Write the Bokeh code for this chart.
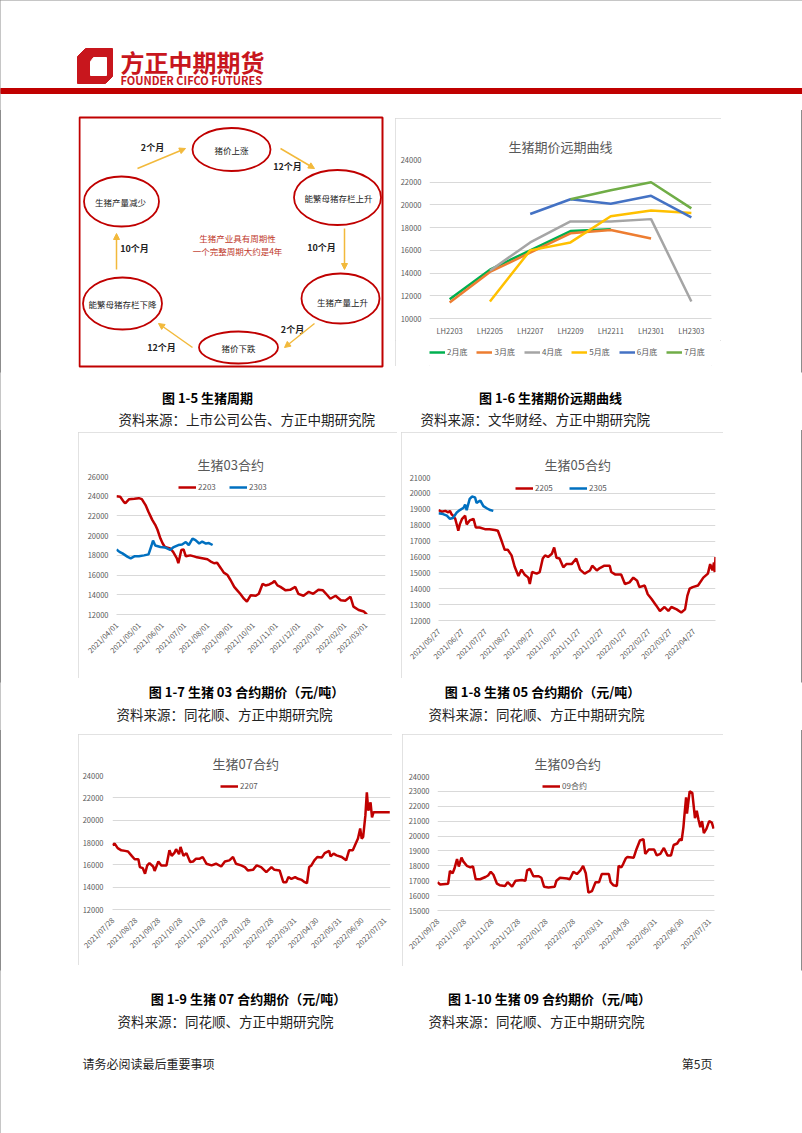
import math
import pandas as pd
from bokeh.plotting import figure
from bokeh.layouts import row, column, Spacer
from bokeh.models import (Range1d, FactorRange, FixedTicker, DatetimeTickFormatter,
                          Legend, LegendItem, Arrow, NormalHead)
from bokeh.core.properties import value
from bokeh.embed import file_html
from bokeh.resources import INLINE

NAN = float("nan")

# ------------------------------------------------------------------ data
brand_cn = "方正中期期货"
brand_en = "FOUNDER CIFCO FUTURES"

cycle_nodes = ["猪价上涨", "能繁母猪存栏上升", "生猪产量上升", "猪价下跌", "能繁母猪存栏下降", "生猪产量减少"]
cycle_steps = ["2个月", "12个月", "10个月", "2个月", "12个月", "10个月"]
cycle_note = ["生猪产业具有周期性", "一个完整周期大约是4年"]

curve_title = "生猪期价远期曲线"
curve_contracts = ["LH2203", "LH2205", "LH2207", "LH2209", "LH2211", "LH2301", "LH2303"]
curve_names = ["2月底", "3月底", "4月底", "5月底", "6月底", "7月底"]
curve_feb = [11700, 14300, 16000, 17700, 17850, NAN, NAN]
curve_mar = [11400, 14100, 15800, 17500, 17800, 17050, NAN]
curve_apr = [NAN, 14200, 16700, 18550, 18550, 18750, 11500]
curve_may = [NAN, 11500, 16000, 16700, 19000, 19500, 19300]
curve_jun = [NAN, NAN, 19200, 20500, 20100, 20800, 18900]
curve_jul = [NAN, NAN, NAN, 20500, 21300, 22000, 19700]
curve_yticks = [10000, 12000, 14000, 16000, 18000, 20000, 22000, 24000]

c03_title = "生猪03合约"
c03_names = ["2203", "2303"]
c03_a_dates = ["2021-04-01", "2021-04-06", "2021-04-11", "2021-04-13", "2021-04-18", "2021-04-25",
               "2021-05-01", "2021-05-05", "2021-05-10", "2021-05-14", "2021-05-19", "2021-05-23",
               "2021-05-26", "2021-05-30", "2021-06-02", "2021-06-05", "2021-06-12", "2021-06-16",
               "2021-06-21", "2021-06-23", "2021-06-27", "2021-06-30", "2021-07-03", "2021-07-09",
               "2021-07-14", "2021-07-18", "2021-07-25", "2021-08-01", "2021-08-05", "2021-08-10",
               "2021-08-14", "2021-08-19", "2021-08-23", "2021-08-28", "2021-09-01", "2021-09-06",
               "2021-09-10", "2021-09-14", "2021-09-19", "2021-09-23", "2021-09-28", "2021-10-05",
               "2021-10-09", "2021-10-14", "2021-10-18", "2021-10-23", "2021-10-27", "2021-10-30",
               "2021-11-03", "2021-11-07", "2021-11-14", "2021-11-20", "2021-11-27", "2021-12-01",
               "2021-12-08", "2021-12-15", "2021-12-21", "2021-12-28", "2022-01-03", "2022-01-09",
               "2022-01-13", "2022-01-20", "2022-01-27", "2022-02-02", "2022-02-09", "2022-02-13",
               "2022-02-20", "2022-02-27", "2022-03-03"]
c03_a_vals = [24000, 23950, 23400, 23300, 23700, 23750,
              23800, 23700, 23100, 22400, 21600, 21100,
              20600, 19700, 19200, 18850, 18700, 18350,
              17700, 17200, 18550, 18600, 17900, 18000,
              17900, 17800, 17700, 17600, 17400, 17200,
              17250, 16700, 16250, 16000, 15500, 14800,
              14450, 14100, 13600, 13300, 13950, 13900,
              14100, 15100, 14950, 15050, 15200, 15400,
              14950, 14800, 14450, 14500, 14800, 14100,
              13900, 14300, 14100, 14500, 14450, 13950,
              13600, 13900, 13450, 13400, 13800, 12800,
              12450, 12300, 12000]
c03_b_dates = ["2021-04-01", "2021-04-05", "2021-04-09", "2021-04-16", "2021-04-20", "2021-04-25",
               "2021-05-01", "2021-05-08", "2021-05-14", "2021-05-18", "2021-05-20", "2021-05-23",
               "2021-05-30", "2021-06-05", "2021-06-12", "2021-06-16", "2021-06-23", "2021-06-28",
               "2021-07-03", "2021-07-07", "2021-07-12", "2021-07-16", "2021-07-21", "2021-07-25",
               "2021-07-30", "2021-08-03", "2021-08-08"]
c03_b_vals = [18600, 18350, 18200, 17850, 17700, 17900,
              17900, 18000, 18100, 19000, 19500, 19000,
              18850, 18800, 18550, 18800, 19050, 19100,
              19350, 19050, 19700, 19550, 19200, 19400,
              19200, 19250, 19050]
c03_xticks = ["2021-04-01", "2021-05-01", "2021-06-01", "2021-07-01", "2021-08-01", "2021-09-01",
              "2021-10-01", "2021-11-01", "2021-12-01", "2022-01-01", "2022-02-01", "2022-03-01"]
c03_yticks = [12000, 14000, 16000, 18000, 20000, 22000, 24000, 26000]

c05_title = "生猪05合约"
c05_names = ["2205", "2305"]
c05_a_dates = ["2021-05-27", "2021-05-31", "2021-06-05", "2021-06-09", "2021-06-11", "2021-06-13",
               "2021-06-15", "2021-06-18", "2021-06-21", "2021-06-22", "2021-06-24", "2021-06-27",
               "2021-07-01", "2021-07-03", "2021-07-07", "2021-07-12", "2021-07-15", "2021-07-20",
               "2021-07-27", "2021-08-02", "2021-08-09", "2021-08-13", "2021-08-18", "2021-08-22",
               "2021-08-26", "2021-08-31", "2021-09-04", "2021-09-09", "2021-09-13", "2021-09-17",
               "2021-09-22", "2021-09-24", "2021-09-27", "2021-10-03", "2021-10-07", "2021-10-11",
               "2021-10-14", "2021-10-18", "2021-10-23", "2021-10-26", "2021-10-29", "2021-11-02",
               "2021-11-07", "2021-11-11", "2021-11-18", "2021-11-24", "2021-11-29", "2021-12-05",
               "2021-12-12", "2021-12-15", "2021-12-21", "2021-12-25", "2021-12-31", "2022-01-07",
               "2022-01-09", "2022-01-14", "2022-01-22", "2022-01-27", "2022-02-02", "2022-02-07",
               "2022-02-12", "2022-02-15", "2022-02-22", "2022-02-26", "2022-03-03", "2022-03-09",
               "2022-03-14", "2022-03-20", "2022-03-25", "2022-03-29", "2022-04-05", "2022-04-11",
               "2022-04-16", "2022-04-19", "2022-04-22", "2022-04-26", "2022-05-03", "2022-05-10",
               "2022-05-16", "2022-05-19", "2022-05-22", "2022-05-24", "2022-05-25", "2022-05-26"]
c05_a_vals = [18950, 18850, 18900, 18800, 18900, 18700,
              18600, 18400, 17850, 17650, 18050, 18400,
              18600, 18050, 18300, 18400, 17850, 17850,
              17750, 17750, 17700, 17650, 17000, 16450,
              16450, 16100, 15400, 14800, 15200, 14900,
              14700, 14300, 15050, 14950, 15050, 15900,
              16100, 16000, 16200, 16600, 15950, 15900,
              15350, 15550, 15550, 15900, 15200, 14950,
              15150, 15450, 15150, 15300, 15450, 15450,
              15050, 14900, 14900, 14300, 14400, 14700,
              14500, 14100, 14200, 13650, 13350, 12950,
              12600, 12850, 12600, 12850, 12700, 12500,
              12700, 13550, 14000, 14100, 14200, 14700,
              14950, 15550, 15150, 15650, 15050, 16000]
c05_b_dates = ["2021-05-27", "2021-06-02", "2021-06-07", "2021-06-11", "2021-06-15", "2021-06-20",
               "2021-06-24", "2021-06-29", "2021-07-01", "2021-07-03", "2021-07-07", "2021-07-10",
               "2021-07-14", "2021-07-16", "2021-07-21", "2021-07-25", "2021-07-30", "2021-08-03",
               "2021-08-07"]
c05_b_vals = [18750, 18700, 18600, 18400, 18450, 18800,
              18950, 19100, 19300, 18950, 19650, 19800,
              19750, 19400, 19550, 19200, 19050, 18950,
              18900]
c05_xticks = ["2021-05-27", "2021-06-27", "2021-07-27", "2021-08-27", "2021-09-27", "2021-10-27",
              "2021-11-27", "2021-12-27", "2022-01-27", "2022-02-27", "2022-03-27", "2022-04-27"]
c05_yticks = [12000, 13000, 14000, 15000, 16000, 17000, 18000, 19000, 20000, 21000]

c07_title = "生猪07合约"
c07_names = ["2207"]
c07_dates = ["2021-07-28", "2021-07-31", "2021-08-04", "2021-08-09", "2021-08-14", "2021-08-18",
             "2021-08-23", "2021-08-27", "2021-09-01", "2021-09-03", "2021-09-07", "2021-09-10",
             "2021-09-13", "2021-09-16", "2021-09-21", "2021-09-23", "2021-09-28", "2021-10-02",
             "2021-10-09", "2021-10-13", "2021-10-16", "2021-10-20", "2021-10-22", "2021-10-26",
             "2021-10-28", "2021-11-01", "2021-11-05", "2021-11-10", "2021-11-14", "2021-11-18",
             "2021-11-23", "2021-11-27", "2021-12-02", "2021-12-09", "2021-12-15", "2021-12-22",
             "2021-12-27", "2022-01-02", "2022-01-07", "2022-01-11", "2022-01-18", "2022-01-23",
             "2022-01-27", "2022-02-03", "2022-02-08", "2022-02-14", "2022-02-21", "2022-02-28",
             "2022-03-04", "2022-03-11", "2022-03-16", "2022-03-20", "2022-03-23", "2022-03-27",
             "2022-04-01", "2022-04-05", "2022-04-10", "2022-04-14", "2022-04-17", "2022-04-20",
             "2022-04-23", "2022-04-27", "2022-05-01", "2022-05-07", "2022-05-11", "2022-05-17",
             "2022-05-19", "2022-05-23", "2022-05-27", "2022-06-03", "2022-06-09", "2022-06-13",
             "2022-06-18", "2022-06-22", "2022-06-25", "2022-06-28", "2022-06-30", "2022-07-02",
             "2022-07-05", "2022-07-07", "2022-07-09", "2022-07-12", "2022-07-14", "2022-07-16",
             "2022-08-07"]
c07_vals = [17750, 17900, 17500, 17300, 17250, 17200,
            16800, 16500, 16500, 15800, 15700, 15200,
            15950, 16150, 15850, 15450, 16300, 15950,
            15950, 17300, 16800, 17100, 17400, 16950,
            17600, 16800, 17050, 16250, 16300, 16550,
            16550, 16700, 16100, 15950, 16100, 15850,
            16300, 16400, 16700, 16100, 15950, 15800,
            15500, 15550, 15950, 15800, 15350, 15800,
            15550, 15500, 14450, 14450, 14900, 14750,
            14900, 14750, 14650, 14450, 14350, 15800,
            15950, 16400, 16700, 16650, 17050, 17250,
            16750, 17000, 16850, 16700, 16400, 17300,
            17300, 17900, 18350, 19250, 18350, 18500,
            20400, 22500, 20850, 21600, 20250, 20700,
            20700]
c07_xticks = ["2021-07-28", "2021-08-28", "2021-09-28", "2021-10-28", "2021-11-28", "2021-12-28",
              "2022-01-28", "2022-02-28", "2022-03-31", "2022-04-30", "2022-05-31", "2022-06-30",
              "2022-07-31"]
c07_yticks = [12000, 14000, 16000, 18000, 20000, 22000, 24000]

c09_title = "生猪09合约"
c09_names = ["09合约"]
c09_dates = ["2021-09-28", "2021-10-01", "2021-10-10", "2021-10-12", "2021-10-15", "2021-10-17",
             "2021-10-20", "2021-10-22", "2021-10-25", "2021-10-27", "2021-10-31", "2021-11-04",
             "2021-11-07", "2021-11-10", "2021-11-15", "2021-11-21", "2021-11-24", "2021-11-27",
             "2021-11-30", "2021-12-04", "2021-12-07", "2021-12-13", "2021-12-16", "2021-12-21",
             "2021-12-25", "2022-01-01", "2022-01-05", "2022-01-07", "2022-01-10", "2022-01-14",
             "2022-01-20", "2022-01-23", "2022-01-26", "2022-01-31", "2022-02-07", "2022-02-09",
             "2022-02-13", "2022-02-21", "2022-02-24", "2022-02-28", "2022-03-04", "2022-03-08",
             "2022-03-11", "2022-03-14", "2022-03-17", "2022-03-21", "2022-03-25", "2022-03-29",
             "2022-04-01", "2022-04-09", "2022-04-11", "2022-04-14", "2022-04-18", "2022-04-20",
             "2022-04-23", "2022-04-25", "2022-04-28", "2022-04-30", "2022-05-07", "2022-05-10",
             "2022-05-14", "2022-05-18", "2022-05-20", "2022-05-24", "2022-05-30", "2022-06-02",
             "2022-06-06", "2022-06-10", "2022-06-14", "2022-06-18", "2022-06-21", "2022-06-25",
             "2022-06-28", "2022-06-30", "2022-07-02", "2022-07-03", "2022-07-05", "2022-07-06",
             "2022-07-09", "2022-07-12", "2022-07-15", "2022-07-17", "2022-07-19", "2022-07-21",
             "2022-07-23", "2022-07-25", "2022-07-28", "2022-07-31", "2022-08-03", "2022-08-05"]
c09_vals = [16900, 16750, 16800, 17650, 17500, 17800,
            18450, 17950, 18550, 18300, 18000, 17900,
            17950, 17100, 17100, 17250, 17350, 17600,
            17400, 16800, 16700, 16650, 16900, 16600,
            17000, 17050, 17000, 17700, 17800, 17300,
            17300, 17200, 16600, 16550, 16600, 17000,
            17200, 17150, 17100, 17600, 17450, 17700,
            18000, 17500, 16200, 16300, 16900, 16900,
            17450, 17450, 16900, 16700, 16650, 18000,
            17900, 18100, 18500, 18600, 18550, 19100,
            19700, 19800, 18800, 19100, 19100, 18700,
            18800, 19200, 18700, 18700, 19400, 19500,
            19800, 19700, 20600, 21300, 22600, 21500,
            23000, 22900, 21200, 21700, 21100, 20600,
            21000, 20200, 20500, 21000, 20900, 20500]
c09_xticks = ["2021-09-28", "2021-10-28", "2021-11-28", "2021-12-28", "2022-01-28", "2022-02-28",
              "2022-03-31", "2022-04-30", "2022-05-31", "2022-06-30", "2022-07-31"]
c09_yticks = [15000, 16000, 17000, 18000, 19000, 20000, 21000, 22000, 23000, 24000]

fig_captions = ["图 1-5 生猪周期", "图 1-6 生猪期价远期曲线",
                "图 1-7 生猪 03 合约期价（元/吨）", "图 1-8 生猪 05 合约期价（元/吨）",
                "图 1-9 生猪 07 合约期价（元/吨）", "图 1-10 生猪 09 合约期价（元/吨）"]
fig_sources = ["资料来源：上市公司公告、方正中期研究院", "资料来源：文华财经、方正中期研究院",
               "资料来源：同花顺、方正中期研究院", "资料来源：同花顺、方正中期研究院",
               "资料来源：同花顺、方正中期研究院", "资料来源：同花顺、方正中期研究院"]
footer_left = "请务必阅读最后重要事项"
footer_right = "第5页"

# ------------------------------------------------------------------ style
CJK = "Noto Sans CJK SC"
RED = "#c00000"
BRAND = "#c8161d"
GRID = "#d9d9d9"
TXT = "#595959"
C_RED = "#c00000"
C_BLUE = "#0070c0"
ARW = "#f2b93b"
BORDER = {"outline": "1px solid #d9d9d9", "outline-offset": "-1px"}


def canvas(x0, x1, y0, y1):
    p = figure(width=x1 - x0, height=y1 - y0, x_range=Range1d(x0, x1), y_range=Range1d(y1, y0),
               x_axis_type=None, y_axis_type=None, output_backend="svg",
               toolbar_location=None, min_border=0)
    p.grid.visible = False
    p.outline_line_color = None
    p.background_fill_color = "white"
    p.border_fill_color = "white"
    return p


def txt(p, x, y, s, size, color="#000000", align="left", bold=False):
    p.text(x=[x], y=[y], text=[s], text_font=value(CJK), text_font_size=size,
           text_color=color, text_align=align, text_baseline="middle",
           text_font_style="bold" if bold else "normal")


def style_chart(p, title, title_offset, title_standoff, ystand, xstand, xtick_out=6, border=True):
    p.title.text = title
    p.title.align = "left"
    p.title.text_font = CJK
    p.title.text_font_size = "13px"
    p.title.text_font_style = "normal"
    p.title.text_color = TXT
    p.title.offset = title_offset
    p.title.standoff = title_standoff
    p.yaxis.axis_line_color = None
    p.yaxis.major_tick_line_color = None
    p.yaxis.minor_tick_line_color = None
    p.yaxis.major_tick_out = 0
    p.yaxis.major_tick_in = 0
    p.yaxis.major_label_standoff = ystand
    p.xaxis.axis_line_color = GRID
    p.xaxis.major_tick_line_color = None
    p.xaxis.minor_tick_line_color = None
    p.xaxis.major_tick_out = xtick_out
    p.xaxis.major_tick_in = 0
    p.xaxis.major_label_standoff = xstand
    for ax in (p.xaxis[0], p.yaxis[0]):
        ax.major_label_text_font = CJK
        ax.major_label_text_font_size = "7.5px"
        ax.major_label_text_color = TXT
    p.xgrid.grid_line_color = None
    p.ygrid.grid_line_color = GRID
    p.outline_line_color = None
    if border:
        p.styles = BORDER


def make_legend(items, loc, spacing, gw=18):
    return Legend(items=[LegendItem(label=l, renderers=[r]) for l, r in items],
                  location=loc, orientation="horizontal", padding=0, margin=0,
                  spacing=spacing, glyph_width=gw, glyph_height=10, label_height=10,
                  label_standoff=2, label_text_font=CJK, label_text_font_size="8px",
                  label_text_color=TXT, border_line_color=None, background_fill_alpha=0)


def ms(d):
    return pd.Timestamp(d).timestamp() * 1000.0


def date_chart(w, h, ml, mr, mt, mb, x0, x1, yticks, xticks, title, toff, tstand, ystand):
    p = figure(width=w, height=h, x_axis_type="datetime",
               x_range=Range1d(pd.Timestamp(x0), pd.Timestamp(x1)),
               y_range=Range1d(yticks[0], yticks[-1]), output_backend="svg",
               toolbar_location=None, min_border_left=ml, min_border_right=mr,
               min_border_top=mt, min_border_bottom=mb)
    style_chart(p, title, toff, tstand, ystand, 3)
    p.yaxis.ticker = FixedTicker(ticks=yticks)
    p.xaxis.ticker = FixedTicker(ticks=[ms(d) for d in xticks])
    f = "%Y/%m/%d"
    p.xaxis.formatter = DatetimeTickFormatter(milliseconds=f, seconds=f, minsec=f, minutes=f,
                                              hourmin=f, hours=f, days=f, months=f, years=f)
    p.xaxis.major_label_orientation = math.pi / 4
    return p


# ------------------------------------------------------------------ header
hdr = canvas(0, 802, 0, 110)
hdr.patch(x=[85, 112, 112, 105, 77, 77], y=[48, 48, 76, 83, 83, 56], color=BRAND)
hdr.patch(x=[93, 106, 106, 90, 90], y=[57, 57, 75, 75, 61], color="white")
txt(hdr, 120, 61, brand_cn, "24px", BRAND, bold=True)
txt(hdr, 120, 79, brand_en, "11px", BRAND, bold=True)
hdr.quad(left=[0], right=[802], top=[88], bottom=[93], color=RED)

# ------------------------------------------------------------------ cycle diagram
cyc = canvas(78, 384, 110, 372)
cyc.quad(left=[79], right=[382], top=[117], bottom=[366], fill_color=None,
         line_color=RED, line_width=2)
node_x = [231, 337, 340, 238, 122, 121]
node_y = [149, 197, 298, 347, 303, 201]
node_w = [78, 87, 78, 79, 79, 75]
node_h = [43, 55, 50, 32, 52, 50]
cyc.ellipse(x=node_x, y=node_y, width=node_w, height=node_h, fill_color=None,
            line_color=RED, line_width=1.8)
cyc.text(x=[231, 338, 342, 238, 122, 120], y=[149, 197, 301, 347, 303, 201], text=cycle_nodes,
         text_font=value(CJK), text_font_size="8.5px", text_color="#222222",
         text_align="center", text_baseline="middle")
arrows = [(137, 168, 185, 148), (280, 148, 314, 168), (344, 228, 344, 269),
          (314, 323, 284, 347), (192, 347, 158, 323), (116, 269, 116, 233)]
for xs, ys, xe, ye in arrows:
    cyc.add_layout(Arrow(end=NormalHead(size=6, fill_color=ARW, line_color=ARW),
                         x_start=xs, y_start=ys, x_end=xe, y_end=ye,
                         line_color=ARW, line_width=1.5))
cyc.text(x=[152, 287, 321, 292, 161, 134], y=[147, 166, 247, 329, 347, 248], text=cycle_steps,
         text_font=value(CJK), text_font_size="9px", text_color="#222222",
         text_font_style="bold", text_align="center", text_baseline="middle")
cyc.text(x=[237, 237], y=[237, 250], text=cycle_note, text_font=value(CJK),
         text_font_size="8.5px", text_color="#c0392b", text_align="center",
         text_baseline="middle")

# ------------------------------------------------------------------ forward curve
f16 = figure(width=326, height=222, x_range=FactorRange(*curve_contracts),
             y_range=Range1d(curve_yticks[0], curve_yticks[-1]), output_backend="svg",
             toolbar_location=None, min_border_left=34, min_border_right=10,
             min_border_top=41, min_border_bottom=22)
style_chart(f16, curve_title, 79, 7, 8, 6, xtick_out=0, border=False)
f16.yaxis.ticker = FixedTicker(ticks=curve_yticks)
curve_cols = ["#00b050", "#ed7d31", "#a5a5a5", "#ffc000", "#4472c4", "#70ad47"]
for vals, col in zip([curve_feb, curve_mar, curve_apr, curve_may, curve_jun, curve_jul], curve_cols):
    f16.line(x=curve_contracts, y=vals, line_color=col, line_width=2.5)

# legend strip under the forward-curve chart (same colours as the series; its
# frame is aligned by the column with the chart frame above)
leg16 = figure(width=326, height=26, x_range=Range1d(0, 1), y_range=Range1d(0, 1),
               x_axis_type=None, y_axis_type=None, output_backend="svg",
               toolbar_location=None, min_border=0)
leg16.grid.visible = False
leg16.outline_line_color = None
leg_r = [leg16.line(x=[5, 6], y=[5, 6], line_color=c, line_width=2.5) for c in curve_cols]
leg16.add_layout(make_legend(list(zip(curve_names, leg_r)), (0, 9), 9, gw=16))
box16 = column(f16, leg16)
box16.styles = BORDER

# ------------------------------------------------------------------ 03 contract
f17 = date_chart(319, 246, 38, 12, 44, 64, "2021-04-01", "2022-03-28", c03_yticks, c03_xticks,
                 c03_title, 81, 6, 8)
r1 = f17.line(x=pd.to_datetime(c03_a_dates), y=c03_a_vals, line_color=C_RED, line_width=2.5)
r2 = f17.line(x=pd.to_datetime(c03_b_dates), y=c03_b_vals, line_color=C_BLUE, line_width=2.5)
f17.add_layout(make_legend([(c03_names[0], r1), (c03_names[1], r2)], (62, 122), 11))

# ------------------------------------------------------------------ 05 contract
f18 = date_chart(322, 246, 37, 8, 45, 58, "2021-05-27", "2022-05-26", c05_yticks, c05_xticks,
                 c05_title, 106, 8, 8)
r1 = f18.line(x=pd.to_datetime(c05_a_dates), y=c05_a_vals, line_color=C_RED, line_width=2.5)
r2 = f18.line(x=pd.to_datetime(c05_b_dates), y=c05_b_vals, line_color=C_BLUE, line_width=2.5)
f18.add_layout(make_legend([(c05_names[0], r1), (c05_names[1], r2)], (77, 127), 14))

# ------------------------------------------------------------------ 07 contract
f19 = date_chart(314, 231, 34, 2, 41, 56, "2021-07-28", "2022-08-08", c07_yticks, c07_xticks,
                 c07_title, 100, 5, 9)
r1 = f19.line(x=pd.to_datetime(c07_dates), y=c07_vals, line_color=C_RED, line_width=2.5)
f19.add_layout(make_legend([(c07_names[0], r1)], (108, 118), 10))

# ------------------------------------------------------------------ 09 contract
f110 = date_chart(321, 232, 35, 9, 42, 56, "2021-09-28", "2022-08-06", c09_yticks, c09_xticks,
                  c09_title, 97, 7, 8)
r1 = f110.line(x=pd.to_datetime(c09_dates), y=c09_vals, line_color=C_RED, line_width=2.5)
f110.add_layout(make_legend([(c09_names[0], r1)], (105, 119), 10))

# ------------------------------------------------------------------ captions
capC = canvas(0, 802, 372, 430)
txt(capC, 207, 397, fig_captions[0], "13px", align="center", bold=True)
txt(capC, 550, 397, fig_captions[1], "13px", align="center", bold=True)
txt(capC, 118, 418, fig_sources[0], "13.5px", "#222222")
txt(capC, 420, 418, fig_sources[1], "13.5px", "#222222")

capE = canvas(0, 802, 682, 730)
txt(capE, 246, 691, fig_captions[2], "13px", align="center", bold=True)
txt(capE, 542, 691, fig_captions[3], "13px", align="center", bold=True)
txt(capE, 116, 713, fig_sources[2], "13.5px", "#222222")
txt(capE, 428, 713, fig_sources[3], "13.5px", "#222222")

capG = canvas(0, 802, 970, 1133)
txt(capG, 248, 998, fig_captions[4], "13px", align="center", bold=True)
txt(capG, 549, 998, fig_captions[5], "13px", align="center", bold=True)
txt(capG, 117, 1020, fig_sources[4], "13.5px", "#222222")
txt(capG, 428, 1020, fig_sources[5], "13.5px", "#222222")
txt(capG, 82, 1063, footer_left, "12px", "#222222")
txt(capG, 712, 1063, footer_right, "12px", "#222222", align="right")

# ------------------------------------------------------------------ layout
rowB = row(Spacer(width=78, height=262), cyc, Spacer(width=11, height=262),
           column(Spacer(width=326, height=8), box16, Spacer(width=326, height=6)),
           Spacer(width=81, height=262))
rowD = row(Spacer(width=78, height=252),
           column(Spacer(width=319, height=2), f17, Spacer(width=319, height=4)),
           Spacer(width=4, height=252),
           column(Spacer(width=322, height=2), f18, Spacer(width=322, height=4)),
           Spacer(width=79, height=252))
rowF = row(Spacer(width=78, height=240),
           column(Spacer(width=314, height=4), f19, Spacer(width=314, height=5)),
           Spacer(width=10, height=240),
           column(Spacer(width=321, height=4), f110, Spacer(width=321, height=4)),
           Spacer(width=79, height=240))
page = column(hdr, rowB, capC, rowD, capE, rowF, capG)
page.styles = {"outline": "1px solid #8c8c8c", "outline-offset": "-1px"}

open("out.html", "w").write(file_html(page, INLINE))
